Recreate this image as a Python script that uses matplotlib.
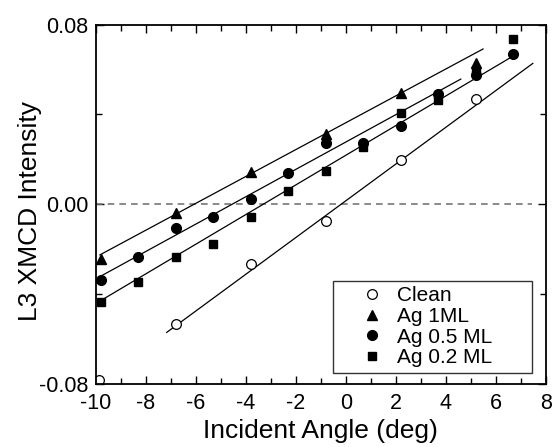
import matplotlib
matplotlib.use('Agg')
import matplotlib.pyplot as plt
import numpy as np
from matplotlib.ticker import MultipleLocator

plt.rcParams['font.family'] = ['Liberation Sans', 'DejaVu Sans']
plt.rcParams['axes.unicode_minus'] = False

# data
clean_x = [-9.85, -6.8, -3.8, -0.8, 2.2, 5.2]
clean_y = [-0.0783, -0.0533, -0.0268, -0.0074, 0.0196, 0.0467]

ag1_x = [-9.8, -6.8, -3.8, -0.8, 2.2, 5.2]
ag1_y = [-0.0246, -0.0038, 0.0142, 0.0313, 0.0494, 0.0630]

ag05_x = [-9.8, -8.3, -6.8, -5.3, -3.8, -2.3, -0.8, 0.7, 2.2, 3.7, 5.2, 6.7]
ag05_y = [-0.0338, -0.0237, -0.0106, -0.0056, 0.0023, 0.0140, 0.0271, 0.0274,
          0.0348, 0.0492, 0.0576, 0.0668]

ag02_x = [-9.8, -8.3, -6.8, -5.3, -3.8, -2.3, -0.8, 0.7, 2.2, 3.7, 5.2, 6.7]
ag02_y = [-0.0434, -0.0345, -0.0234, -0.0177, -0.0056, 0.0060, 0.0149, 0.0254,
          0.0408, 0.0464, 0.0600, 0.0735]

# fitted lines: slope, intercept, x range
fit_clean = (0.00819, 0.0015, [-7.16, 7.48])
fit_ag1 = (0.00599, 0.0363, [-9.83, 5.49])
fit_ag05 = (0.0061, 0.0277, [-9.79, 4.6])
fit_ag02 = (0.00661, 0.0218, [-9.76, 6.6])

fig = plt.figure(figsize=(5.53, 4.47), dpi=100)
ax = fig.add_axes([0.173, 0.1416, 0.814, 0.8031])

ax.plot([-10, 7.45], [0, 0], ls=(0, (4, 3)), color='#777777', lw=1.2)

for slope, icpt, xr in [fit_clean, fit_ag1, fit_ag05, fit_ag02]:
    xs = np.array(xr)
    ax.plot(xs, slope * xs + icpt, color='black', lw=0.9)

ax.plot(ag02_x, ag02_y, 's', color='black', ms=5.5, ls='none', label='Ag 0.2 ML')
ax.plot(ag05_x, ag05_y, 'o', color='black', ms=7, ls='none', label='Ag 0.5 ML')
ax.plot(ag1_x, ag1_y, '^', color='black', ms=7.5, ls='none', label='Ag 1ML')
ax.plot(clean_x, clean_y, 'o', mfc='white', mec='black', mew=0.9, ms=7, ls='none', label='Clean')

ax.set_xlim(-10, 8)
ax.set_ylim(-0.08, 0.08)
ax.xaxis.set_major_locator(MultipleLocator(2))
ax.xaxis.set_minor_locator(MultipleLocator(1))
ax.set_yticks([-0.08, 0.0, 0.08])
ax.set_yticklabels(['-0.08', '0.00', '0.08'])
ax.set_yticks([-0.04, 0.04], minor=True)
ax.tick_params(which='both', direction='in', top=True, right=True, labelsize=15.5, width=1)
ax.tick_params(which='major', length=6)
ax.tick_params(axis='x', which='major', pad=7)
ax.tick_params(axis='y', which='major', pad=5)
ax.tick_params(which='minor', length=4)
for s in ax.spines.values():
    s.set_linewidth(1.3)

ax.set_xlabel('Incident Angle (deg)', fontsize=19, labelpad=3)
ax.set_ylabel('L3 XMCD Intensity', fontsize=19)
ax.yaxis.set_label_coords(-0.12, 0.48)

h, l = ax.get_legend_handles_labels()
order = [3, 2, 1, 0]
leg = ax.legend([h[i] for i in order], [l[i] for i in order], loc='lower left',
                bbox_to_anchor=(0.528, 0.031, 0.442, 0.249), mode='expand',
                fontsize=15, frameon=True, fancybox=False, edgecolor='black',
                handletextpad=-0.4, labelspacing=0.08, borderpad=0.25,
                handlelength=3.2, borderaxespad=0)
leg.get_frame().set_linewidth(1.0)

plt.savefig('out.png', dpi=100)
